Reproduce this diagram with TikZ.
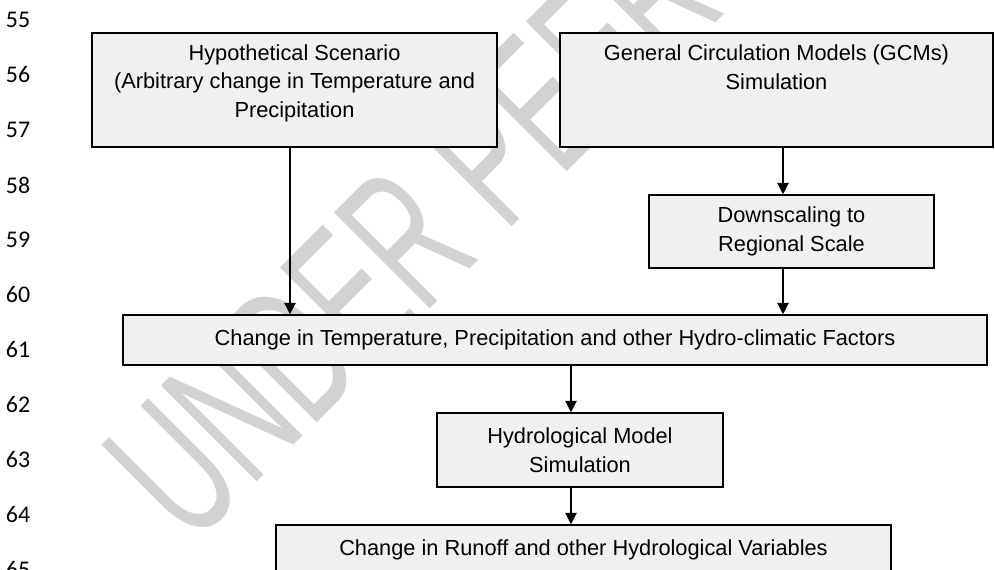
\documentclass[tikz,border=0pt]{standalone}
\usepackage{fontspec}
\setmainfont{Liberation Sans}
\newfontfamily\lnfont{Carlito}
\usetikzlibrary{arrows.meta}
\definecolor{boxfill}{HTML}{F0F0F0}
\definecolor{wmark}{HTML}{D2D2D2}

\begin{document}
\begin{tikzpicture}[x=0.02cm, y=-0.02cm,
    box/.style={draw, fill=boxfill, line width=0.9pt, align=center, inner sep=0pt,
      font=\fontsize{12.4}{16.2}\selectfont},
    topbox/.style={box, line width=1.1pt, inner ysep=0.1cm},
    arr/.style={-{Triangle[length=6.5pt,width=6.5pt]}, line width=0.75pt},
    lnum/.style={font=\lnfont\fontsize{13.6}{16}\selectfont}]
  \useasboundingbox (0,0) rectangle (995,569);

  % watermark behind everything
  \node[anchor=west, rotate=45, yscale=1.7, text=wmark, font=\fontsize{66}{66}\selectfont] (wm) at (140,505) {UNDER PEER REVIEW};

  % line numbers
  \foreach \n [count=\i from 0] in {55,...,65}
    \node[lnum] (l\n) at (18, 20+55*\i) {\n};

  \node[topbox, minimum width=8.1cm, text height=1.58cm, text depth=0.5cm] (hyp) at (294.5,90) {Hypothetical Scenario\\(Arbitrary change in Temperature and\\Precipitation};
  \node[topbox, minimum width=8.66cm, text height=1.02cm, text depth=1.06cm] (gcm) at (776.5,90) {General Circulation Models (GCMs)\\Simulation};
  \node[box, minimum width=5.7cm, minimum height=1.46cm] (dsc) at (791.5,231.5) {Downscaling to\\Regional Scale};
  \node[box, minimum width=17.28cm, minimum height=1cm] (chg) at (555,340) {Change in Temperature, Precipitation and other Hydro-climatic Factors};
  \node[box, minimum width=5.72cm, minimum height=1.48cm] (hyd) at (580,450) {Hydrological Model\\Simulation};
  \node[box, minimum width=12.3cm, minimum height=1cm] (run) at (583.5,550) {Change in Runoff and other Hydrological Variables};

  \coordinate (xl) at (290,0);
  \coordinate (xr) at (783,0);
  \coordinate (xm) at (571,0);

  \draw (hyp.south -| xl) edge[arr] (chg.north -| xl)
        (gcm.south -| xr) edge[arr] (dsc.north -| xr)
        (dsc.south -| xr) edge[arr] (chg.north -| xr)
        (chg.south -| xm) edge[arr] (hyd.north -| xm)
        (hyd.south -| xm) edge[arr] (run.north -| xm);
\end{tikzpicture}
\end{document}
